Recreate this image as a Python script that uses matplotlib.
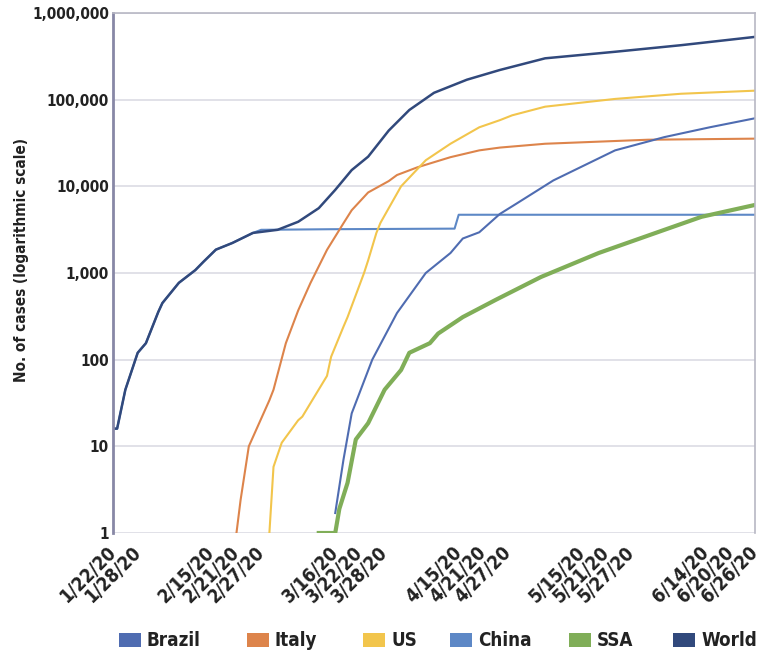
import pandas as pd
import matplotlib
matplotlib.use("Agg")
from matplotlib import pyplot as plt
from matplotlib.patches import Rectangle

# values (deaths, log scale)
world_dates = ["1/22/20", "1/23/20", "1/25/20", "1/28/20", "1/30/20", "2/2/20", "2/3/20",
               "2/7/20", "2/11/20", "2/13/20", "2/16/20", "2/20/20", "2/25/20", "3/2/20",
               "3/7/20", "3/12/20", "3/16/20", "3/20/20", "3/24/20", "3/29/20", "4/3/20",
               "4/9/20", "4/17/20", "4/25/20", "5/6/20", "5/23/20", "6/8/20", "6/26/20"]
world_vals = [16, 16, 45, 120, 155, 355, 450, 770, 1080, 1350, 1860, 2220, 2900, 3150,
              3900, 5600, 9100, 15400, 22000, 44000, 76000, 120000, 170000, 220000,
              300000, 357000, 425000, 530000]

italy_dates = ["2/21/20", "2/22/20", "2/24/20", "2/29/20", "3/1/20", "3/4/20", "3/7/20",
               "3/10/20", "3/14/20", "3/18/20", "3/20/20", "3/24/20", "3/29/20", "3/31/20",
               "4/5/20", "4/13/20", "4/20/20", "4/25/20", "5/6/20", "5/31/20", "6/26/20"]
italy_vals = [1, 2.4, 10, 34, 45, 155, 370, 770, 1850, 3750, 5300, 8500, 11500, 13500,
              16600, 21700, 26000, 28000, 31000, 34500, 35500]

us_dates = ["2/29/20", "3/1/20", "3/3/20", "3/7/20", "3/8/20", "3/14/20", "3/15/20",
            "3/18/20", "3/19/20", "3/23/20", "3/24/20", "3/26/20", "3/27/20", "3/29/20",
            "4/1/20", "4/7/20", "4/13/20", "4/20/20", "4/25/20", "4/28/20", "5/6/20",
            "5/23/20", "6/8/20", "6/26/20"]
us_vals = [1, 5.8, 11, 20, 22, 65, 108, 240, 310, 1000, 1400, 2900, 3800, 5600, 10000,
           20000, 31000, 48000, 58000, 66000, 83000, 102000, 117000, 127000]

brazil_dates = ["3/16/20", "3/18/20", "3/20/20", "3/25/20", "3/31/20", "4/7/20", "4/13/20",
                "4/16/20", "4/20/20", "4/25/20", "4/29/20", "5/8/20", "5/23/20", "6/4/20",
                "6/15/20", "6/26/20"]
brazil_vals = [1.7, 7, 24, 100, 345, 1000, 1700, 2500, 2950, 4800, 6300, 11700, 26000,
               37000, 48000, 61000]

china_dates = world_dates[:13] + ["2/27/20", "3/15/20", "4/14/20", "4/15/20", "6/26/20"]
china_vals = world_vals[:13] + [3150, 3200, 3250, 4700, 4700]

ssa_dates = ["3/12/20", "3/16/20", "3/17/20", "3/19/20", "3/21/20", "3/24/20", "3/28/20",
             "4/1/20", "4/3/20", "4/8/20", "4/10/20", "4/16/20", "4/24/20", "5/5/20",
             "5/19/20", "6/4/20", "6/13/20", "6/26/20"]
ssa_vals = [1, 1, 1.9, 3.8, 12, 18.5, 45, 76, 120, 155, 200, 310, 490, 900, 1700, 3150,
            4450, 6100]

tick_dates = ["1/22/20", "1/28/20", "2/15/20", "2/21/20", "2/27/20", "3/16/20", "3/22/20",
              "3/28/20", "4/15/20", "4/21/20", "4/27/20", "5/15/20", "5/21/20", "5/27/20",
              "6/14/20", "6/20/20", "6/26/20"]
y_ticks = [1, 10, 100, 1000, 10000, 100000, 1000000]

names = ["Brazil", "Italy", "US", "China", "SSA", "World"]
colors = {"Brazil": "#4f6cb1", "Italy": "#dd844b", "US": "#f2c54c",
          "China": "#5d88c6", "SSA": "#80ae58", "World": "#31497c"}


def to_dt(d):
    return pd.to_datetime(d, format="%m/%d/%y")


plt.rcParams["font.family"] = ["DejaVu Sans"]
plt.rcParams["font.stretch"] = "condensed"

W, H = 774, 651
fig = plt.figure(figsize=(W / 100, H / 100), dpi=100)
ax = fig.add_axes([113 / W, 1 - 533 / H, 642 / W, 520 / H])

ax.plot(to_dt(china_dates), china_vals, color=colors["China"], lw=1.5)
ax.plot(to_dt(italy_dates), italy_vals, color=colors["Italy"], lw=1.5)
ax.plot(to_dt(us_dates), us_vals, color=colors["US"], lw=1.5)
ax.plot(to_dt(brazil_dates), brazil_vals, color=colors["Brazil"], lw=1.5)
ax.plot(to_dt(ssa_dates), ssa_vals, color=colors["SSA"], lw=3)
ax.plot(to_dt(world_dates), world_vals, color=colors["World"], lw=1.8)

ax.set_yscale("log")
ax.set_ylim(1, 1000000)
ax.set_xlim(to_dt("1/22/20"), to_dt("6/26/20"))

ax.set_yticks(y_ticks)
ax.set_yticklabels([f"{v:,}" for v in y_ticks], fontsize=11, fontweight="bold",
                   color="#222222")
ax.yaxis.set_minor_locator(matplotlib.ticker.NullLocator())
ax.set_xticks(to_dt(tick_dates))
ax.set_xticklabels(tick_dates, rotation=45, ha="right", va="center", rotation_mode="anchor",
                   fontsize=13.5, fontweight="bold", color="#222222")
ax.tick_params(axis="both", length=0)
ax.tick_params(axis="y", pad=3)
ax.tick_params(axis="x", pad=12)

ax.grid(axis="y", color="#dcdce4", lw=1.2)
ax.set_axisbelow(True)
for side in ["top", "right"]:
    ax.spines[side].set_color("#b8b8c4")
    ax.spines[side].set_linewidth(1.2)
ax.spines["left"].set_color("#8888a6")
ax.spines["left"].set_linewidth(2)
ax.spines["bottom"].set_visible(False)

ax.set_ylabel("No. of cases (logarithmic scale)", fontsize=11, fontweight="bold",
              color="#222222")
ax.yaxis.set_label_coords(-0.131, 0.525)

# legend row laid out by hand, spacing as in the original
leg_x = [119, 247, 363, 450, 569, 673]
for n, x in zip(names, leg_x):
    fig.patches.append(Rectangle((x / W, 1 - 647 / H), 22 / W, 14 / H,
                                 transform=fig.transFigure, facecolor=colors[n],
                                 edgecolor="none"))
    fig.text((x + 28) / W, 1 - 640 / H, n, fontsize=13.5, fontweight="bold",
             color="#222222", va="center", ha="left")

fig.savefig("out.png", dpi=100)
